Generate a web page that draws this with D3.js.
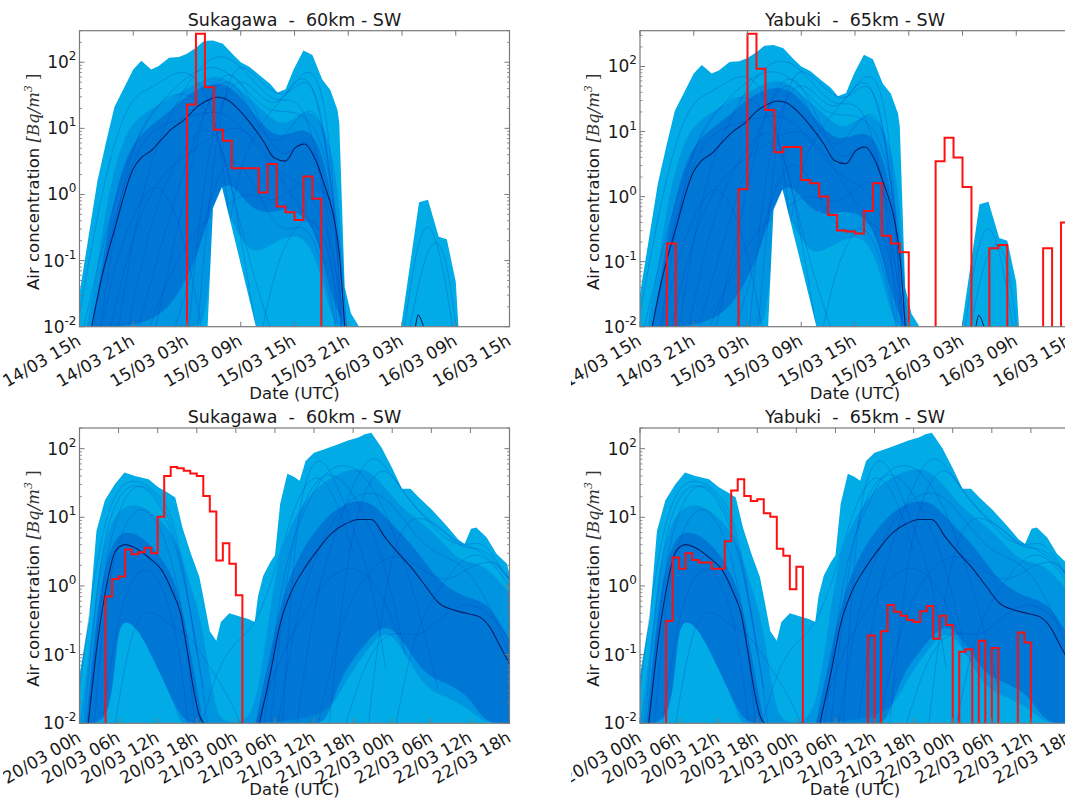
<!DOCTYPE html>
<html><head><meta charset="utf-8">
<script src="https://cdn.jsdelivr.net/npm/d3@7"></script>
<style>
body{margin:0;background:#fff}
svg{display:block}
text{font-family:"DejaVu Sans",sans-serif;fill:#1a1a1a;white-space:pre}
</style>
</head><body>
<svg id="c" width="1065" height="799"></svg>
<script>
// ---------------- DATA (hours from start of window, concentrations in Bq/m3) ----------------
const xTicksA = ["14/03 15h","14/03 21h","15/03 03h","15/03 09h","15/03 15h","15/03 21h","16/03 03h","16/03 09h","16/03 15h"];
const xTicksB = ["20/03 00h","20/03 06h","20/03 12h","20/03 18h","21/03 00h","21/03 06h","21/03 12h","21/03 18h","22/03 00h","22/03 06h","22/03 12h","22/03 18h"];
const yTickValues = [0.01, 0.1, 1, 10, 100];
const yTickExp = ["-2","-1","0","1","2"];
const titles = ["Sukagawa  -  60km - SW","Yabuki  -  65km - SW","Sukagawa  -  60km - SW","Yabuki  -  65km - SW"];

// Ensemble A (14/03 15h - 16/03 15h): envelope max
const aMaxH = [0,2,3,3.9,6,6.9,8,8.8,10,11.1,12,13,13.9,14.9,16,17.1,18,19,20.2,21.3,22.1,23,23.9,25,26,27.1,28,28.8,29,29.6,30.3,31.2,31.4,35.7,35.9,37.9,38.9,40.1,41.0,42.0,42.3,42.5];
const aMaxV = [0.032,1.6,6.5,21,78,105,78,87,117,120,135,166,209,214,190,132,100,85,62,47,35,39,78,151,129,55,38,19,12,0.04,0.016,0.01,0.001,0.001,0.01,0.76,0.83,0.23,0.21,0.048,0.01,0.001];
// ensemble minimum (where above detection floor)
const aMinH = [14.3,14.9,15.9,19.7];
const aMinV = [0.01,0.62,1.3,0.01];
// ensemble median
const aMedH = [1.36,2.4,3.9,6.0,6.9,8.0,9.2,10.3,11.8,13.0,14.1,15.4,16.4,17.5,19.0,20.5,21.7,23.0,24.1,25.1,26.4,27.3,28.3,29.0,29.6];
const aMedV = [0.01,0.05,0.29,2.45,3.6,4.6,6.9,9.8,13.8,20.4,25.7,29.5,27.5,20.9,12.3,6.5,3.6,3.2,5.1,5.8,3.2,1.45,0.51,0.13,0.01];
const aMed2H = [37.5,37.8,38.4];
const aMed2V = [0.01,0.015,0.01];
// percentile bands
const aOutUpH = [0.8,2,3,4,5,6,8,10,12,14,15.5,17,19,21,22.5,24,25.5,27,28,28.8,29.4,29.8];
const aOutUpV = [0.01,0.08,0.7,2.8,7,12.6,20,28,40,56,63,50,28,16,11,14,20,12.6,5.6,1.4,0.13,0.01];
const aOutLoH = [0.8,13,14,15,16,17,18.5,20,22,24,25.5,27,28.3,29.8];
const aOutLoV = [0.003,0.003,0.01,0.25,0.8,0.4,0.16,0.13,0.2,0.25,0.2,0.063,0.01,0.003];
const aInUpH = [1.5,3,4.5,6,8,10,12,14,16,18,20,22,24,25.5,27,28.5,29.5];
const aInUpV = [0.01,0.25,2.0,6.3,11.2,17.8,32,45,50,32,12.6,7.1,8.9,10,5.0,0.63,0.01];
const aInLoH = [1.5,6,10,13,14.5,16,17.5,19,21,23,25,26.5,28,29.5];
const aInLoV = [0.003,0.003,0.016,0.1,0.5,1.6,1.26,0.63,0.5,0.63,0.5,0.25,0.032,0.003];
// individual ensemble members (estimated)
const membersA = [
  {h:[0,3,6,9,12,15,18,21,24,27,29,30], v:[0.005,0.32,6.3,25,63,100,50,16,20,10,0.32,0.005]},
  {h:[2,5,8,11,14,16,18,20,22], v:[0.005,3.2,20,40,25,5,0.32,0.032,0.005]},
  {h:[8,11,13,15,17,19,21,23,25,27,29], v:[0.005,0.32,6.3,50,79,32,6.3,3.2,7.9,4,0.005]},
  {h:[1,4,7,10,13,16,19,22,25,28,30], v:[0.005,0.63,7.9,12.6,16,20,7.9,2,1.6,0.32,0.005]},
  {h:[4,7,10,13,16,19,22,25,28,29.5], v:[0.005,1.6,16,79,158,63,20,40,0.5,0.005]},
  {h:[10,13,15,17,19,21,23,25,27,29], v:[0.005,0.1,1.6,4,2,0.5,0.25,0.4,0.13,0.005]},
  {h:[3,6,9,12,15,18,21,24,27,29], v:[0.005,0.32,2,4,7.9,12.6,4,0.8,0.25,0.005]},
  {h:[15,17,19,21,23,25,27,29], v:[0.005,1,6.3,16,32,79,25,0.1]},
  {h:[5,8,11,14,16,18,20], v:[0.005,0.5,4,12.6,6.3,0.25,0.005]},
  {h:[20,22,24,26,28,29.5], v:[0.005,0.1,0.32,0.5,0.16,0.005]},
  {h:[36,37.5,39,40.5,42], v:[0.005,0.16,0.5,0.1,0.005]},
  {h:[36.5,38,39.5,41,42.3], v:[0.005,0.063,0.25,0.13,0.005]},
  {h:[6,9,12,14,16,18,20,22,24,26,28,29.5], v:[0.005,0.16,3.2,20,63,40,10,5,12.6,25,6.3,0.005]},
  {h:[0,2,4,6,8,10,12,14,16,18], v:[0.016,0.5,7.9,32,40,63,79,40,6.3,0.005]},
  {h:[12,14,16,18,20,22,24,26,28,29.3], v:[0.005,3.2,32,63,32,20,50,100,16,0.005]},
  {h:[7,10,13,16,19,22,25,28,30], v:[0.005,0.063,0.32,0.63,1.26,0.63,2,1.6,0.005]},
  {h:[2,4,6,8,10,12,14], v:[0.005,0.1,0.5,1.6,1.0,0.16,0.005]},
  {h:[13,15,17,19,21,23,25,27,29], v:[0.005,6.3,100,79,40,28,63,32,0.1]}
];

// Ensemble B (20/03 00h - 22/03 18h)
const bMaxH = [0,1.5,2.6,3.9,5.4,6.9,8.5,10.6,12.1,13.7,14.7,15.8,17.1,18.4,19.1,20.0,21.0,21.7,23.0,24.6,25.9,26.9,27.4,28.2,29.3,30.0,30.8,31.9,32.9,33.8,34.7,36.0,37.6,39.6,41.2,42.8,43.8,44.8,46.4,48.0,49.5,50.8,52.1,54.2,56.3,58.1,59.1,60.1,60.9,62.5,64.0,65.6,66];
const bMaxV = [0.05,0.35,6.3,17.8,30,45,40,36,27.5,22.4,19.5,7.1,2.95,1.35,0.62,0.22,0.16,0.3,0.4,0.36,0.33,0.3,0.71,1.41,2.24,2.8,15.8,43,39,34,66,87,98,115,132,145,162,170,102,52,26,26,19.5,12.6,7.6,4.8,4.1,6.8,7.1,5.1,2.95,2.1,1.5];
const bMedH = [1.35,2.8,4.1,5.5,7.0,8.5,10.6,12.7,14.2,15.5,16.6,17.6,18.4,19.1];
const bMedV = [0.01,0.16,0.95,3.2,4.0,3.6,2.6,1.66,0.85,0.4,0.105,0.028,0.013,0.01];
const bMed2H = [27.6,29.3,30.8,32.4,34.5,36.5,38.6,40.7,42.8,44.8,46.9,49.0,51.1,53.1,55.2,57.3,59.4,61.4,63.0,64.6,66];
const bMed2V = [0.01,0.054,0.28,0.78,1.78,3.3,5.75,7.9,9.3,9.3,5.1,2.95,1.78,1.0,0.56,0.45,0.4,0.355,0.25,0.13,0.074];
const bOutUpH = [0,1.5,3,4.5,6,8,10,12,14,15.5,17,18.5,20,21,22,26,27.5,29,30.5,32,34,36,38,40,42,44,46,48,50,52,54,56,58,60,62,64,66];
const bOutUpV = [0.01,0.1,2.0,7,12.6,15.8,14,10,6.3,3.2,1.0,0.4,0.05,0.016,0.003,0.003,0.032,0.3,2.5,6.3,14,25,35,45,50,50,35,20,12.6,9,6.3,4.0,2.5,2.2,2.0,1.3,0.8];
const bOutLoH = [0,5,5.7,7.5,9.5,12,14,15.5,16,38,40,43.8,46,48,50,53,56,60,62,66];
const bOutLoV = [0.003,0.003,0.28,0.32,0.2,0.063,0.025,0.008,0.003,0.003,0.032,0.105,0.2,0.2,0.105,0.032,0.025,0.016,0.003,0.003];
const bIn1UpH = [1,2.5,4,5.5,7,9,11,13,14.5,16,17.5,19];
const bIn1UpV = [0.0063,0.32,2.24,5.0,6.3,5.6,4.0,2.24,1.26,0.4,0.063,0.0063];
const bIn1LoH = [1,5,5.7,7.5,9.5,12,14,16,19];
const bIn1LoV = [0.003,0.003,0.28,0.32,0.2,0.063,0.025,0.003,0.003];
const bIn2UpH = [27,29,31,33,35,37,39,41,43,45,47,49,51,53,55,57,59,61,63,65,66];
const bIn2UpV = [0.0063,0.079,0.63,2.0,4.5,7.9,12.6,15.8,17.8,15.8,10,6.3,4.0,2.24,1.26,0.89,0.71,0.63,0.5,0.25,0.16];
const bIn2LoH = [27,36,38,40,43.8,46,48,50,53,56,60,62,66];
const bIn2LoV = [0.003,0.003,0.01,0.05,0.14,0.25,0.25,0.14,0.05,0.04,0.025,0.01,0.01];
const membersB = [
  {h:[0.5,3,6,9,12,15,18,20], v:[0.005,3.2,25,32,20,4,0.16,0.005]},
  {h:[2,4,7,10,13,16,18], v:[0.005,1,10,16,6.3,0.5,0.005]},
  {h:[3,6,9,12,15,17], v:[0.005,0.5,2,1.6,0.25,0.005]},
  {h:[1,3,5,8,11,14,16,19], v:[0.005,0.5,7.9,32,28,10,1.6,0.032]},
  {h:[5,8,11,14,17,20,23,26], v:[0.005,0.32,0.5,0.25,0.2,0.063,0.025,0.005]},
  {h:[28,31,34,37,40,43,46,49,52,55], v:[0.005,1.6,10,40,63,50,20,4,0.5,0.032]},
  {h:[30,33,36,39,42,45,48,51,54,57,60,63,66], v:[0.005,0.32,2.5,10,20,25,16,6.3,3.2,2.5,1.6,0.5,0.1]},
  {h:[33,36,39,42,45,48,51,54,57,60,63,66], v:[0.005,0.63,5,32,100,40,16,7.9,4,4,2.5,1.26]},
  {h:[36,40,44,48,52,56,60,64,66], v:[0.005,0.32,1.6,3.2,2,1,2,2.5,1.26]},
  {h:[40,44,48,52,56,60,64,66], v:[0.005,0.1,0.25,0.16,0.4,0.63,0.32,0.16]},
  {h:[29,32,35,38,41,44,47,50], v:[0.005,3.2,25,50,32,10,2,0.1]},
  {h:[44,47,50,53,56,59,62,66], v:[0.005,1.6,10,10,6.3,3.2,4,1.2]},
  {h:[0,2,4,6,8,10,12,14,16,18], v:[0.032,1,10,28,35,32,22,12.6,2,0.1]},
  {h:[18,21,24,27,30,33,36,39,42], v:[0.005,0.063,0.16,0.25,1.6,16,50,25,3.2]},
  {h:[38,41,44,47,50,53,56,59,62,65,66], v:[0.005,3.2,32,63,20,10,6.3,3.5,5,1.6,1.26]},
  {h:[26,29,32,35,38,41,44,47,50], v:[0.005,0.032,0.16,0.5,1.26,2,1.6,0.63,0.1]},
  {h:[48,51,54,57,60,63,66], v:[0.005,0.16,0.63,1.6,3.2,2.5,1]},
  {h:[31,33,35,37,39,41,43,45,47], v:[0.005,6.3,50,79,40,12.6,4,1,0.063]}
];

// Observations (hourly, 0 = no value), first hour given by *Start
const obs1Start = 12;
const obs1 = [23,270,42,9.5,6.5,2.5,2.5,2.5,1.07,2.9,0.66,0.54,0.41,1.87,0.86];
const obs2Start = 3;
const obs2 = [0.19,0,0,0,0,0,0,0,1.3,318,92,21.5,4.8,5.8,5.8,1.8,1.6,1.0,0.52,0.3,0.29,0.27,0.6,1.6,0.25,0.19,0.14,0,0,0,3.5,8.0,4.0,1.4,0,0,0.16,0.18,0,0,0,0,0.16,0,0.40,0.40];
const obs3Start = 4;
const obs3 = [0.7,1.26,1.38,3.4,2.9,3.1,3.6,3.0,10.2,40,54,52,47.5,43.5,40,20.5,12.2,2.35,4.2,2.1,0.73];
const obs4Start = 4;
const obs4 = [0.31,2.6,1.78,3.0,2.4,2.2,2.2,1.78,1.78,4.5,24.5,36,20.5,17.3,18.3,11.5,10.2,3.5,2.75,0.9,1.9,0,0,0,0,0,0,0,0,0,0,0.19,0,0.22,0.53,0.42,0.37,0.32,0.30,0.43,0.51,0.17,0.37,0.27,0,0.11,0.12,0,0.16,0,0.125,0,0,0,0.21,0.15];

// ---------------- STYLE / LAYOUT ----------------
const LIGHT = "#00abe6";
const OUTER = "rgba(0,90,210,0.26)";
const INNER = "rgba(0,55,190,0.32)";
const MEMBER = "rgba(0,60,200,0.26)";
const MEDIAN = "#0b1f66";
const RED = "#ff0f0f";
const SPINE = "#7a7a7a";

const ensA = {maxH:aMaxH,maxV:aMaxV,minH:aMinH,minV:aMinV,
  med:[[aMedH,aMedV],[aMed2H,aMed2V]],
  bands:[{f:OUTER,uh:aOutUpH,uv:aOutUpV,lh:aOutLoH,lv:aOutLoV},{f:INNER,uh:aInUpH,uv:aInUpV,lh:aInLoH,lv:aInLoV}],
  members:membersA};
const ensB = {maxH:bMaxH,maxV:bMaxV,minH:null,minV:null,
  med:[[bMedH,bMedV],[bMed2H,bMed2V]],
  bands:[{f:OUTER,uh:bOutUpH,uv:bOutUpV,lh:bOutLoH,lv:bOutLoV},
         {f:INNER,uh:bIn1UpH,uv:bIn1UpV,lh:bIn1LoH,lv:bIn1LoV},
         {f:INNER,uh:bIn2UpH,uv:bIn2UpV,lh:bIn2LoH,lv:bIn2LoV}],
  members:membersB};

const panels = [
  {x0:79.5,x1:509.5,y0:30.7,y1:326.7,hours:48,ymax:300,ens:ensA,ticks:xTicksA,obsStart:obs1Start,obs:obs1,title:titles[0],cropL:3},
  {x0:640,x1:1070,y0:30.7,y1:326.7,hours:48,ymax:355,ens:ensA,ticks:xTicksA,obsStart:obs2Start,obs:obs2,title:titles[1],cropL:571},
  {x0:79.5,x1:509.5,y0:428,y1:723.3,hours:66,ymax:200,ens:ensB,ticks:xTicksB,obsStart:obs3Start,obs:obs3,title:titles[2],cropL:3},
  {x0:640,x1:1070,y0:428,y1:723.3,hours:66,ymax:200,ens:ensB,ticks:xTicksB,obsStart:obs4Start,obs:obs4,title:titles[3],cropL:571}
];

const svg = d3.select("#c");
const defs = svg.append("defs");
const zip = (h,v) => h.map((d,i)=>[d,v[i]]);

panels.forEach((p,i)=>{
  const x = d3.scaleLinear().domain([0,p.hours]).range([p.x0,p.x1]);
  const y = d3.scaleLog().domain([0.01,p.ymax]).range([p.y1,p.y0]).clamp(true);
  const yu = d3.scaleLog().domain([0.01,p.ymax]).range([p.y1,p.y0]);
  const E = p.ens;
  const cid = "clip"+i;
  defs.append("clipPath").attr("id",cid).append("rect")
    .attr("x",p.x0).attr("y",p.y0).attr("width",p.x1-p.x0).attr("height",p.y1-p.y0);
  const lid = "lclip"+i;
  defs.append("clipPath").attr("id",lid).append("rect")
    .attr("x",p.cropL).attr("y",p.y1).attr("width",p.x1-p.cropL+40).attr("height",70);
  const g = svg.append("g");
  const plot = g.append("g").attr("clip-path",`url(#${cid})`);

  // envelope (max)
  const area = d3.area().x(d=>x(d[0])).y0(p.y1).y1(d=>y(d[1]));
  plot.append("path").datum(zip(E.maxH,E.maxV)).attr("d",area).attr("fill",LIGHT);

  // percentile bands (smoothed edges)
  const smooth = d3.line().curve(d3.curveBasis);
  E.bands.forEach(b=>{
    const up = zip(b.uh,b.uv).map(d=>[x(d[0]),y(d[1])]);
    const lo = zip(b.lh,b.lv).reverse().map(d=>[x(d[0]),y(d[1])]);
    const d = smooth(up) + "L" + smooth(lo).slice(1) + "Z";
    plot.append("path").attr("d",d).attr("fill",b.f);
  });

  // members
  const mline = d3.line().x(d=>x(d[0])).y(d=>yu(d[1])).curve(d3.curveBasis);
  E.members.forEach(m=>{
    plot.append("path").datum(zip(m.h,m.v)).attr("d",mline)
      .attr("fill","none").attr("stroke",MEMBER).attr("stroke-width",1);
  });

  // envelope minimum (white hole)
  if (E.minH) {
    plot.append("path").datum(zip(E.minH,E.minV)).attr("d",area).attr("fill","#fff");
  }

  // median
  const medLine = d3.line().x(d=>x(d[0])).y(d=>yu(d[1])).curve(d3.curveMonotoneX);
  E.med.forEach(s=>{
    plot.append("path").datum(zip(s[0],s[1])).attr("d",medLine)
      .attr("fill","none").attr("stroke",MEDIAN).attr("stroke-width",1.1);
  });

  // observations (step)
  const pts = [[p.obsStart,0]];
  p.obs.forEach((v,k)=>pts.push([p.obsStart+k,v]));
  pts.push([p.obsStart+p.obs.length,0]);
  const stepLine = d3.line().x(d=>x(d[0])).y(d=>d[1]>0?yu(d[1]):p.y1+10).curve(d3.curveStepAfter);
  plot.append("path").datum(pts).attr("d",stepLine)
    .attr("fill","none").attr("stroke",RED).attr("stroke-width",2).attr("stroke-linejoin","miter");

  // frame
  g.append("rect").attr("x",p.x0).attr("y",p.y0).attr("width",p.x1-p.x0).attr("height",p.y1-p.y0)
    .attr("fill","none").attr("stroke",SPINE).attr("stroke-width",1.2);

  // x ticks
  const labG = g.append("g").attr("clip-path",`url(#${lid})`);
  p.ticks.forEach((lab,k)=>{
    const tx = x(k*6);
    g.append("line").attr("x1",tx).attr("x2",tx).attr("y1",p.y1).attr("y2",p.y1-5).attr("stroke",SPINE);
    g.append("line").attr("x1",tx).attr("x2",tx).attr("y1",p.y0).attr("y2",p.y0+5).attr("stroke",SPINE);
    labG.append("text").attr("transform",`translate(${tx-4},${p.y1+6}) rotate(-30)`)
      .attr("text-anchor","end").attr("dy","0.78em").style("font-size","17px").text(lab);
  });

  // y ticks (major + minor)
  yTickValues.forEach((v,k)=>{
    const ty = y(v);
    g.append("line").attr("x1",p.x0).attr("x2",p.x0+5).attr("y1",ty).attr("y2",ty).attr("stroke",SPINE);
    g.append("line").attr("x1",p.x1).attr("x2",p.x1-5).attr("y1",ty).attr("y2",ty).attr("stroke",SPINE);
    const t = g.append("text").attr("x",p.x0-3).attr("y",ty+6).attr("text-anchor","end").style("font-size","17px");
    t.append("tspan").text("10");
    t.append("tspan").attr("dy",-8).style("font-size","12px").text(yTickExp[k]);
    for (let m=2;m<=9;m++){
      const mv = v*m;
      if (mv > p.ymax) break;
      const my = y(mv);
      g.append("line").attr("x1",p.x0).attr("x2",p.x0+2.5).attr("y1",my).attr("y2",my).attr("stroke",SPINE).attr("stroke-width",0.8);
      g.append("line").attr("x1",p.x1).attr("x2",p.x1-2.5).attr("y1",my).attr("y2",my).attr("stroke",SPINE).attr("stroke-width",0.8);
    }
  });

  // title
  g.append("text").attr("x",(p.x0+p.x1)/2).attr("y",p.y0-5).attr("text-anchor","middle")
    .style("font-size","17.5px").text(p.title);
  // x label
  g.append("text").attr("x",(p.x0+p.x1)/2).attr("y",p.y1+72).attr("text-anchor","middle")
    .style("font-size","16.5px").text("Date (UTC)");
  // y label
  const cy = (p.y0+p.y1)/2 + 3;
  const yl = g.append("text").attr("transform",`translate(${p.x0-41},${cy}) rotate(-90)`)
    .attr("text-anchor","middle").style("font-size","16.5px");
  yl.append("tspan").text("Air concentration ");
  yl.append("tspan").style("font-family","'DejaVu Serif',serif").style("font-style","italic").style("fill","#333").text("[Bq/m");
  yl.append("tspan").attr("dy",-7).style("font-family","'DejaVu Serif',serif").style("font-style","italic").style("font-size","11px").style("fill","#333").text("3");
  yl.append("tspan").attr("dy",7).style("font-family","'DejaVu Serif',serif").style("fill","#333").text(" ]");
});
</script>
</body></html>
